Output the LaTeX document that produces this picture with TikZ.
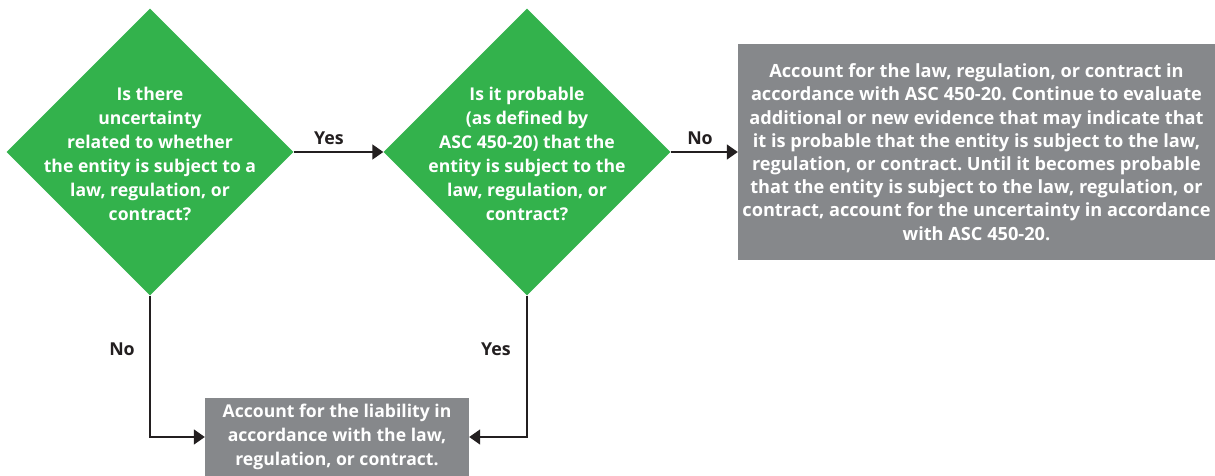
\documentclass[tikz,border=0pt]{standalone}
\usepackage{fontspec}
\setmainfont{Open Sans}
\usetikzlibrary{shapes.geometric,arrows.meta}
\frenchspacing
\definecolor{dgreen}{RGB}{51,178,76}
\definecolor{dgray}{RGB}{134,136,139}
\definecolor{dline}{RGB}{35,31,32}
\tikzset{
  dia/.style={shape=diamond,fill=dgreen,minimum width=287pt,minimum height=287pt,inner sep=0pt},
  dtext/.style={text=white,align=center,font=\bfseries\fontsize{17.6}{24}\selectfont,inner sep=0pt},
  gbox/.style={fill=dgray,text=white,align=center,inner sep=0pt},
  lbl/.style={text=dline,font=\bfseries\fontsize{17.8}{24}\selectfont,inner sep=0pt},
  arr/.style={draw=dline,line width=1.6pt,-{Triangle[length=11pt,width=15pt]}}
}
\begin{document}
\begin{tikzpicture}[x=1pt,y=-1pt]
\useasboundingbox (0,0) rectangle (1215,476);
\node[dia] (d1) at (150,152) {};
\node[dtext] (t1) at (150,154) {Is there\\uncertainty\\related to whether\\the entity is subject to a\\law, regulation, or\\contract?};
\node[dia] (d2) at (527,152) {};
\node[dtext] (t2) at (527,154) {Is it probable\\(as defined by\\ASC 450-20) that the\\entity is subject to the\\law, regulation, or\\contract?};
\node[gbox,minimum width=477pt,minimum height=216pt,font=\bfseries\fontsize{18.2}{23.2}\selectfont] (b1) at (976.5,152) {Account for the law, regulation, or contract in\\accordance with ASC 450-20. Continue to evaluate\\additional or new evidence that may indicate that\\it is probable that the entity is subject to the law,\\regulation, or contract. Until it becomes probable\\that the entity is subject to the law, regulation, or\\contract, account for the uncertainty in accordance\\with ASC 450-20.};
\node[gbox,minimum width=264pt,minimum height=78pt,font=\bfseries\fontsize{17.6}{24}\selectfont] (b2) at (337,437) {Account for the liability in\\accordance with the law,\\regulation, or contract.};
\draw[arr] (d1.east) -- (d2.west);
\draw[arr] (d2.east) -- (b1.west);
\draw[arr] (d1.south) |- (b2.west);
\draw[arr] (d2.south) |- (b2.east);
\node[lbl] (l1) at (329,138) {Yes};
\node[lbl] (l2) at (700,138) {No};
\node[lbl] (l3) at (122,349) {No};
\node[lbl] (l4) at (496,349) {Yes};
\end{tikzpicture}
\end{document}
